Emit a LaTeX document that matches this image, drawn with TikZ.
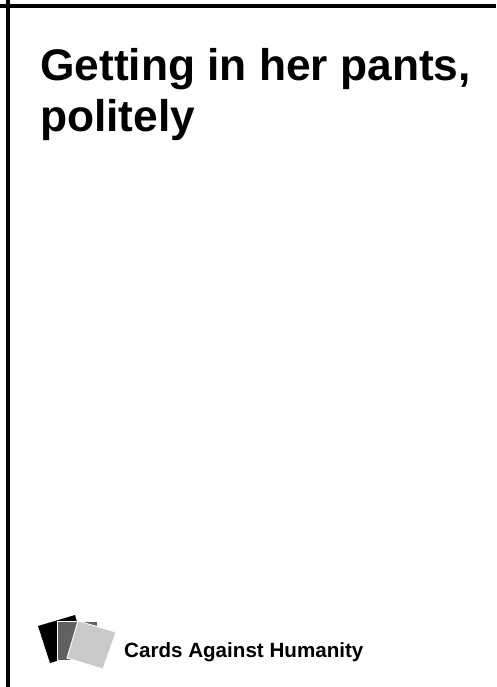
\documentclass[tikz,border=0pt]{standalone}
\usepackage{fontspec}
\setmainfont{Liberation Sans}
\tikzset{rule/.style={fill=black,draw=none},
title/.style={anchor=base west,inner sep=0pt,font=\fontsize{44.3pt}{50pt}\selectfont\bfseries},
brand/.style={anchor=base west,inner sep=0pt,font=\fontsize{20.6pt}{24pt}\selectfont\bfseries},
card/.style={draw=white,line width=0.9pt,line join=miter}}
\begin{document}
\begin{tikzpicture}[x=1pt,y=-1pt]
\useasboundingbox (0,0) rectangle (496,687);
\fill[white] (0,0) rectangle (496,687);
\fill[rule] (0,4) rectangle (496,8);
\fill[rule] (6,0) rectangle (10,687);
\node[title] (l1) at (40,81) {Getting in her pants,};
\node[title] (l2) at (40,132) {politely};
\fill[black] (38,626) -- (75,615) -- (86,652) -- (50,663) -- cycle;
\path[card,fill=black!62] (57,621) -- (97,621) -- (97,660) -- (57,660) -- cycle;
\path[card,fill=black!21] (78,621) -- (116,632) -- (103,669) -- (67,658) -- cycle;
\node[brand] (b) at (124,657) {Cards Against Humanity};
\end{tikzpicture}
\end{document}
